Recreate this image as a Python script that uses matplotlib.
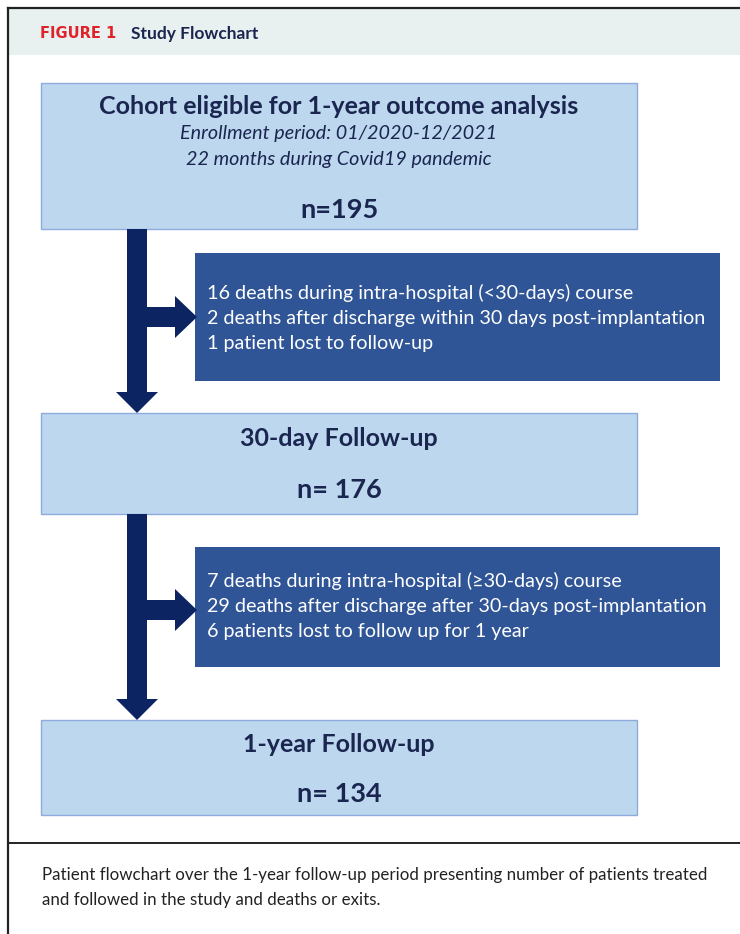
import matplotlib.pyplot as plt
from matplotlib.patches import Rectangle, Polygon

# text content
header_label = "FIGURE 1"
header_title = "Study Flowchart"

stage_titles = ["Cohort eligible for 1-year outcome analysis", "30-day Follow-up", "1-year Follow-up"]
stage_counts = [195, 176, 134]
stage_notes = ["Enrollment period: 01/2020-12/2021", "22 months during Covid19 pandemic"]
stage_count_fmt = ["n={}", "n= {}", "n= {}"]

exit_lines_1 = [
    "16 deaths during intra-hospital (<30-days) course",
    "2 deaths after discharge within 30 days post-implantation",
    "1 patient lost to follow-up",
]
exit_lines_2 = [
    "7 deaths during intra-hospital (\u226530-days) course",
    "29 deaths after discharge after 30-days post-implantation",
    "6 patients lost to follow up for 1 year",
]
caption_lines = [
    "Patient flowchart over the 1-year follow-up period presenting number of patients treated",
    "and followed in the study and deaths or exits.",
]

LIGHT = "#bdd7ee"
LIGHT_EDGE = "#8faadc"
DARK = "#2f5597"
NAVY = "#0c2461"
TXT = "#1a2550"
FONT = "Lato"

fig = plt.figure(figsize=(7.4, 9.34), dpi=100)
ax = fig.add_axes([0, 0, 1, 1])
ax.set_xlim(0, 740)
ax.set_ylim(934, 0)
ax.axis("off")

# outer frame + header band
ax.add_patch(Rectangle((9, 9), 740, 46, facecolor="#e8f0f0", edgecolor="none"))
ax.plot([8, 8], [8, 934], color="#222222", lw=1.6)
ax.plot([8, 740], [8, 8], color="#222222", lw=1.6)
ax.plot([8, 740], [843, 843], color="#222222", lw=1.4)
ax.text(40, 34, header_label, color="#e0232b", fontsize=10.5, fontweight="bold",
        family="DejaVu Sans", va="center", ha="left")
ax.text(131, 34, header_title, color=TXT, fontsize=12.5, fontweight="bold",
        family=FONT, va="center", ha="left")

# light boxes (left, top, right, bottom)
boxes = [(41, 83, 637, 229), (41, 413, 637, 514), (41, 720, 637, 815)]
for (x0, y0, x1, y1) in boxes:
    ax.add_patch(Rectangle((x0, y0), x1 - x0, y1 - y0, facecolor=LIGHT,
                           edgecolor=LIGHT_EDGE, lw=1.0))

ax.text(339, 106, stage_titles[0], color=TXT, fontsize=18, fontweight="bold",
        family=FONT, ha="center", va="center")
for i, line in enumerate(stage_notes):
    ax.text(339, 134 + 26 * i, line, color=TXT, fontsize=14.2, style="italic",
            family=FONT, ha="center", va="center")
ax.text(339, 210, stage_count_fmt[0].format(stage_counts[0]), color=TXT, fontsize=19.5,
        fontweight="bold", family=FONT, ha="center", va="center")

for k, (ty, ny) in zip([1, 2], [(438, 490), (744, 794)]):
    ax.text(339, ty, stage_titles[k], color=TXT, fontsize=18, fontweight="bold",
            family=FONT, ha="center", va="center")
    ax.text(339, ny, stage_count_fmt[k].format(stage_counts[k]), color=TXT, fontsize=19.5,
            fontweight="bold", family=FONT, ha="center", va="center")

# dark exit boxes
dark_boxes = [(195, 253, 720, 381), (195, 547, 720, 667)]
first_line_y = [293, 581]
for (x0, y0, x1, y1), lines, fy in zip(dark_boxes, [exit_lines_1, exit_lines_2], first_line_y):
    ax.add_patch(Rectangle((x0, y0), x1 - x0, y1 - y0, facecolor=DARK, edgecolor="none"))
    for i, line in enumerate(lines):
        ax.text(207, fy + 25.5 * i, line, color="white", fontsize=14.2, family=FONT,
                ha="left", va="center")


def flow_arrow(y_top, y_tip, y_branch):
    # vertical shaft + down head
    ax.add_patch(Rectangle((127, y_top), 20, y_tip - 20 - y_top, facecolor=NAVY, edgecolor="none"))
    ax.add_patch(Polygon([(116, y_tip - 21), (158, y_tip - 21), (137, y_tip)],
                         facecolor=NAVY, edgecolor="none"))
    # branch to the right
    ax.add_patch(Rectangle((147, y_branch - 10), 29, 20, facecolor=NAVY, edgecolor="none"))
    ax.add_patch(Polygon([(175, y_branch - 21), (175, y_branch + 21), (197, y_branch)],
                         facecolor=NAVY, edgecolor="none"))


flow_arrow(229, 413, 317)
flow_arrow(514, 720, 610)

for i, line in enumerate(caption_lines):
    ax.text(42, 875 + 25 * i, line, color="#222222", fontsize=12.2, family=FONT,
            ha="left", va="center")

fig.savefig("out.png", dpi=100)
